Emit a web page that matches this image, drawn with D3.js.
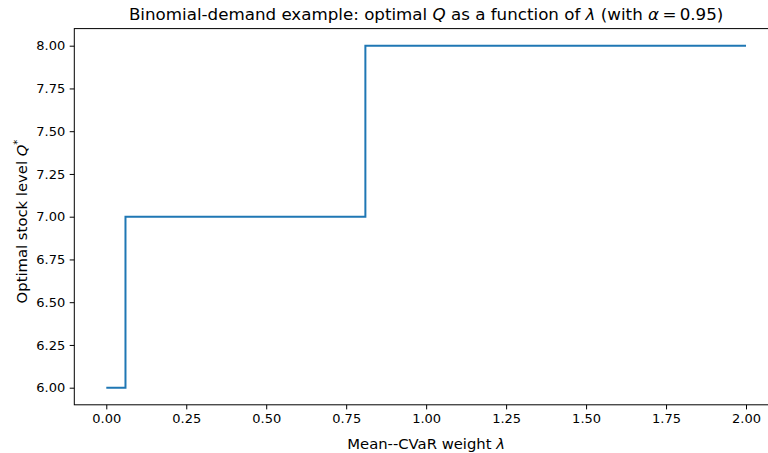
<!DOCTYPE html>
<html>
<head>
<meta charset="utf-8">
<script src="https://d3js.org/d3.v7.min.js"></script>
<style>
  body { margin: 0; background: #fff; }
  svg text { font-family: "DejaVu Sans", sans-serif; fill: #000; }
  .it { font-style: italic; }
</style>
</head>
<body>
<script>
// step data: lambda grid breakpoints and optimal Q (post step)
var lambdas = [0, 0.06, 0.81, 2.0];
var qValues = [6, 7, 8, 8];
var xTicks = [0, 0.25, 0.5, 0.75, 1.0, 1.25, 1.5, 1.75, 2.0];
var yTicks = [6.0, 6.25, 6.5, 6.75, 7.0, 7.25, 7.5, 7.75, 8.0];

function draw() {
  var W = 768, H = 453;
  var mLeft = 74.3, mRight = 778, mTop = 28.6, mBottom = 404.8;

  var svg = d3.select("body").append("svg")
    .attr("width", W).attr("height", H);

  var x = d3.scaleLinear().domain([-0.1, 2.1]).range([mLeft, mRight]);
  var y = d3.scaleLinear().domain([5.9, 8.1]).range([mBottom, mTop]);

  var pts = lambdas.map(function(l, i) { return [l, qValues[i]]; });

  // line
  svg.append("path")
    .datum(pts)
    .attr("fill", "none")
    .attr("stroke", "#1f77b4")
    .attr("stroke-width", 2)
    .attr("d", d3.line().x(function(d){ return x(d[0]); }).y(function(d){ return y(d[1]); }).curve(d3.curveStepAfter));

  // axes
  var xAxis = svg.append("g")
    .attr("transform", "translate(0," + mBottom + ")")
    .call(d3.axisBottom(x).tickValues(xTicks).tickFormat(d3.format(".2f")).tickSize(4.6).tickPadding(4.5));
  var yAxis = svg.append("g")
    .attr("transform", "translate(" + mLeft + ",0)")
    .call(d3.axisLeft(y).tickValues(yTicks).tickFormat(d3.format(".2f")).tickSize(4.6).tickPadding(4.5));

  [xAxis, yAxis].forEach(function(g) {
    g.select(".domain").remove();
    g.selectAll("line").attr("stroke", "#000").attr("stroke-width", 1);
    g.selectAll("text").style("font-size", "13px").style("font-family", "DejaVu Sans");
  });

  // spines
  svg.append("rect")
    .attr("x", mLeft).attr("y", mTop)
    .attr("width", mRight - mLeft).attr("height", mBottom - mTop)
    .attr("fill", "none").attr("stroke", "#000").attr("stroke-width", 1);

  var cx = (mLeft + mRight) / 2;

  // title
  var t = svg.append("text")
    .attr("x", cx).attr("y", 20)
    .attr("text-anchor", "middle")
    .style("font-size", "16.7px");
  t.append("tspan").text("Binomial-demand example: optimal ");
  t.append("tspan").attr("class", "it").text("Q");
  t.append("tspan").text(" as a function of ");
  t.append("tspan").attr("class", "it").text("λ");
  t.append("tspan").text(" (with ");
  t.append("tspan").attr("class", "it").text("α");
  t.append("tspan").text("\u2009=\u20090.95)");

  // x label
  var xl = svg.append("text")
    .attr("x", cx).attr("y", 449)
    .attr("text-anchor", "middle")
    .style("font-size", "14.8px");
  xl.append("tspan").text("Mean--CVaR weight ");
  xl.append("tspan").attr("class", "it").text("λ");

  // y label
  var yl = svg.append("text")
    .attr("transform", "translate(26.5,221.5) rotate(-90)")
    .attr("text-anchor", "middle")
    .style("font-size", "14.8px");
  yl.append("tspan").text("Optimal stock level ");
  yl.append("tspan").attr("class", "it").text("Q");
  yl.append("tspan").attr("dy", -6).style("font-size", "10px").text("*");
}
draw();
</script>
</body>
</html>
